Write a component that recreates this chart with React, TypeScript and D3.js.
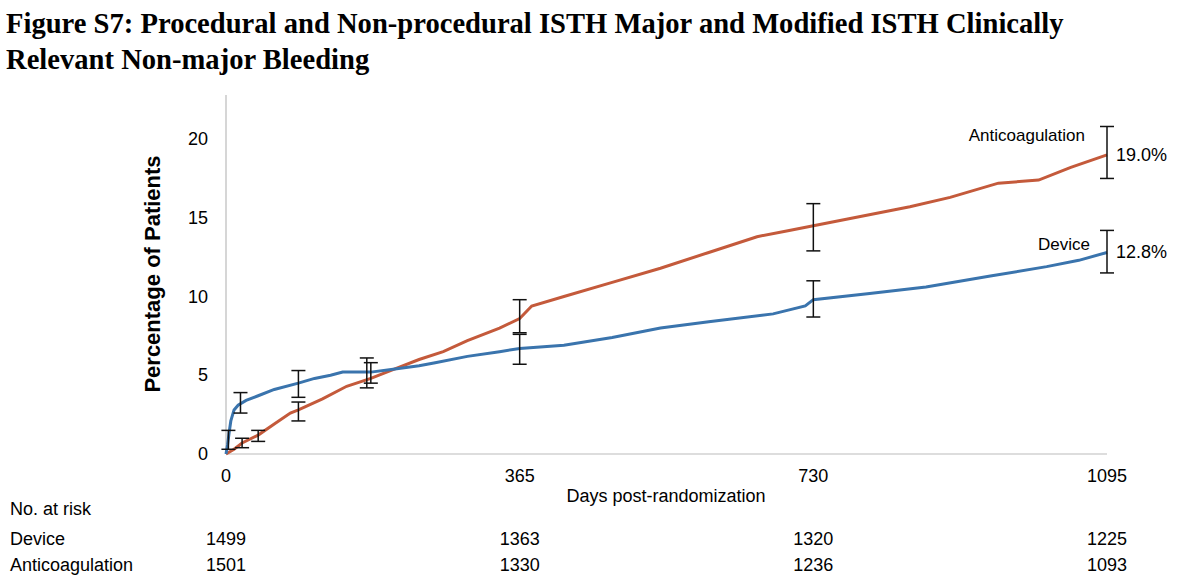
import React from "react";
import * as d3 from "d3";

const deviceDays = [0, 2, 4, 6, 10, 15, 25, 40, 60, 90, 110, 130, 145, 180, 210, 240, 260, 300, 340, 365, 420, 480, 540, 600, 680, 720, 730, 800, 870, 950, 1020, 1060, 1095];
const deviceVals = [0, 0.6, 1.4, 2.1, 2.8, 3.1, 3.4, 3.7, 4.1, 4.5, 4.8, 5.0, 5.2, 5.2, 5.4, 5.6, 5.8, 6.2, 6.5, 6.7, 6.9, 7.4, 8.0, 8.4, 8.9, 9.4, 9.8, 10.2, 10.6, 11.3, 11.9, 12.3, 12.8];
const antiDays = [0, 10, 20, 40, 60, 80, 90, 120, 150, 180, 210, 240, 270, 300, 340, 365, 380, 420, 480, 540, 600, 660, 700, 730, 790, 850, 900, 960, 1010, 1050, 1095];
const antiVals = [0, 0.3, 0.7, 1.2, 1.9, 2.6, 2.8, 3.5, 4.3, 4.8, 5.4, 6.0, 6.5, 7.2, 8.0, 8.6, 9.4, 10.0, 10.9, 11.8, 12.8, 13.8, 14.2, 14.5, 15.1, 15.7, 16.3, 17.2, 17.4, 18.2, 19.0];

const deviceErrDays = [3, 18, 90, 180, 365, 730, 1095];
const deviceErrLo = [0.3, 2.6, 3.6, 4.5, 5.7, 8.7, 11.5];
const deviceErrHi = [1.5, 3.9, 5.3, 5.8, 7.6, 11.0, 14.2];
const antiErrDays = [20, 40, 90, 175, 365, 730, 1095];
const antiErrLo = [0.4, 0.8, 2.1, 4.2, 7.7, 12.9, 17.5];
const antiErrHi = [1.0, 1.5, 3.3, 6.1, 9.8, 15.9, 20.8];

const xTicks = [0, 365, 730, 1095];
const yTicks = [0, 5, 10, 15, 20];
const riskDevice = [1499, 1363, 1320, 1225];
const riskAnti = [1501, 1330, 1236, 1093];

const BLUE = "#3a74ad";
const ORANGE = "#c45a3b";
const FONT = "'Liberation Sans', Arial, sans-serif";
const SERIF = "'Liberation Serif', 'Times New Roman', serif";

export default function App() {
  const W = 1200, H = 583;
  const x = d3.scaleLinear().domain([0, 1095]).range([226, 1107]);
  const y = d3.scaleLinear().domain([0, 22.8]).range([454, 95]);
  const line = d3.line<[number, number]>().x(d => x(d[0])).y(d => y(d[1])).curve(d3.curveLinear);
  const dev = deviceDays.map((d, i) => [d, deviceVals[i]] as [number, number]);
  const ant = antiDays.map((d, i) => [d, antiVals[i]] as [number, number]);

  const errBars = (days: number[], lo: number[], hi: number[], key: string) =>
    days.map((d, i) => (
      <g key={key + i} stroke="#111" strokeWidth={1.5}>
        <line x1={x(d)} x2={x(d)} y1={y(lo[i])} y2={y(hi[i])} />
        <line x1={x(d) - 7} x2={x(d) + 7} y1={y(lo[i])} y2={y(lo[i])} />
        <line x1={x(d) - 7} x2={x(d) + 7} y1={y(hi[i])} y2={y(hi[i])} />
      </g>
    ));

  return (
    <svg width={W} height={H} style={{ position: "absolute", left: 0, top: 0, background: "#fff" }}>
      <text x={6} y={33} fontFamily={SERIF} fontWeight="bold" fontSize={28.6}>
        Figure S7: Procedural and Non-procedural ISTH Major and Modified ISTH Clinically
      </text>
      <text x={6} y={69} fontFamily={SERIF} fontWeight="bold" fontSize={28.6}>
        Relevant Non-major Bleeding
      </text>
      <line x1={x(0)} x2={x(0)} y1={95} y2={y(0)} stroke="#bbb" strokeWidth={1.2} />
      <line x1={x(0)} x2={x(1095)} y1={y(0)} y2={y(0)} stroke="#bbb" strokeWidth={1.2} />
      {yTicks.map(t => (
        <text key={t} x={208} y={y(t) + 6} textAnchor="end" fontFamily={FONT} fontSize={18}>{t}</text>
      ))}
      {xTicks.map(t => (
        <text key={t} x={x(t)} y={482} textAnchor="middle" fontFamily={FONT} fontSize={18}>{t}</text>
      ))}
      <text transform={`translate(160,${y(0) - 180}) rotate(-90)`} textAnchor="middle" fontFamily={FONT} fontWeight="bold" fontSize={22}>
        Percentage of Patients
      </text>
      <text x={666} y={502} textAnchor="middle" fontFamily={FONT} fontSize={18}>Days post-randomization</text>
      <path d={line(ant) || ""} fill="none" stroke={ORANGE} strokeWidth={3} />
      <path d={line(dev) || ""} fill="none" stroke={BLUE} strokeWidth={3} />
      {errBars(deviceErrDays, deviceErrLo, deviceErrHi, "d")}
      {errBars(antiErrDays, antiErrLo, antiErrHi, "a")}
      <text x={1085} y={141} textAnchor="end" fontFamily={FONT} fontSize={17}>Anticoagulation</text>
      <text x={1090} y={250} textAnchor="end" fontFamily={FONT} fontSize={17}>Device</text>
      <text x={1116} y={y(19.0) + 6} fontFamily={FONT} fontSize={18}>19.0%</text>
      <text x={1116} y={y(12.8) + 6} fontFamily={FONT} fontSize={18}>12.8%</text>
      <text x={10} y={515} fontFamily={FONT} fontSize={18}>No. at risk</text>
      <text x={10} y={545} fontFamily={FONT} fontSize={18}>Device</text>
      <text x={10} y={571} fontFamily={FONT} fontSize={18}>Anticoagulation</text>
      {xTicks.map((t, i) => (
        <g key={"r" + t} fontFamily={FONT} fontSize={18} textAnchor="middle">
          <text x={x(t)} y={545}>{riskDevice[i]}</text>
          <text x={x(t)} y={571}>{riskAnti[i]}</text>
        </g>
      ))}
    </svg>
  );
}
